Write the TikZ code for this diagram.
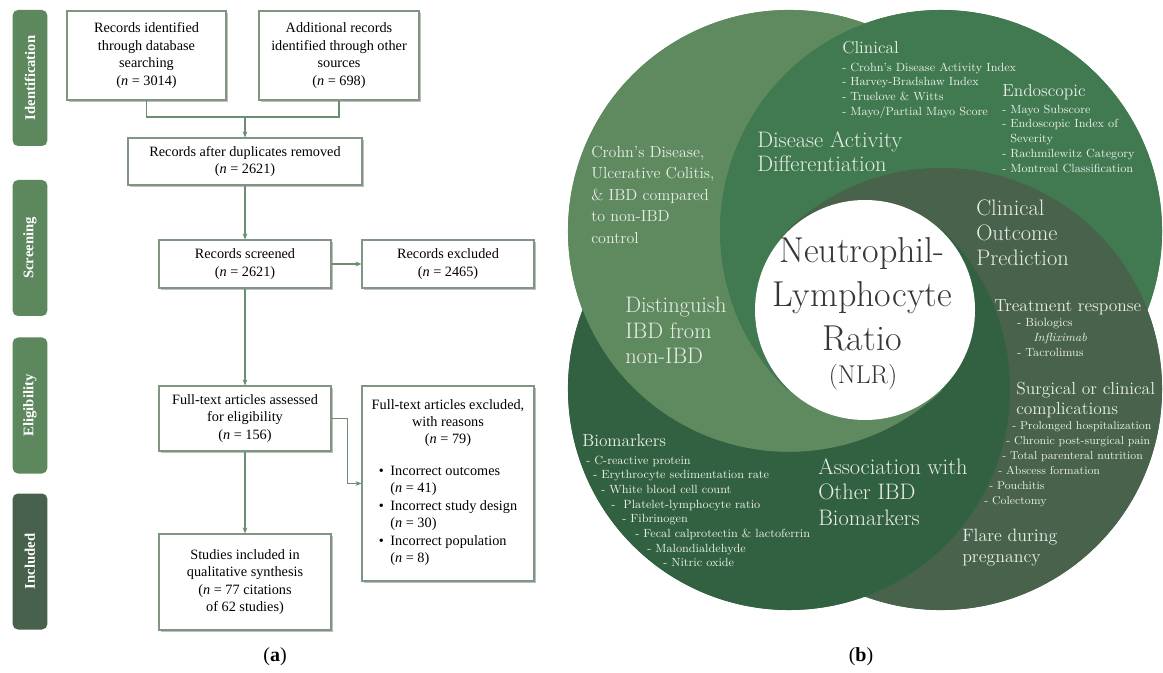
\documentclass[tikz,border=0pt]{standalone}
\usepackage{fontspec}
\usepackage{tikz}
\usetikzlibrary{arrows.meta,calc,shadows}
\newfontfamily\flowfont{Liberation Serif}
\definecolor{stagegreen}{HTML}{5D875D}
\definecolor{stagedark}{HTML}{47614C}
\definecolor{boxline}{HTML}{7F9782}
\definecolor{linkgreen}{HTML}{6B8E71}
\definecolor{vA}{HTML}{5F8A5F}
\definecolor{vB}{HTML}{417A51}
\definecolor{vC}{HTML}{48624C}
\definecolor{vD}{HTML}{326141}
\definecolor{venntext}{HTML}{E9EEE7}
\definecolor{coretext}{HTML}{363636}
\tikzset{
  stage/.style={rounded corners=4pt, rotate=90, text=white, inner sep=0pt,
    minimum width=102pt, minimum height=26pt,
    font=\flowfont\fontsize{11}{13}\selectfont\bfseries},
  fbox/.style={draw=boxline, line width=0.8pt, fill=white, align=center, inner sep=2pt,
    font=\flowfont\fontsize{10.7}{13.1}\selectfont,
    drop shadow={shadow xshift=1.2pt, shadow yshift=-1.2pt, fill=black, opacity=0.25}},
  link/.style={draw=linkgreen, line width=0.8pt},
  arr/.style={link, -{Stealth[length=4.5pt, width=3.6pt]}},
  vtxt/.style={text=venntext, align=left, anchor=north west, inner sep=0pt},
  bigtxt/.style={vtxt, font=\fontsize{16.8}{19.1}\selectfont},
  headtxt/.style={vtxt, font=\fontsize{13}{15.5}\selectfont},
  itemtxt/.style={vtxt, font=\fontsize{8.9}{11}\selectfont},
  panel/.style={font=\flowfont\fontsize{15}{18}\selectfont},
}

\begin{document}
\begin{tikzpicture}[x=0.75pt, y=-0.75pt]
  \fill[white] (0,0) rectangle (1163,673);
  \useasboundingbox (0,0) rectangle (1163,673);

  % (a) PRISMA flow
  \node[stage, fill=stagegreen] (sIdent) at (30,78) {Identification};
  \node[stage, fill=stagegreen] (sScreen) at (30,248) {Screening};
  \node[stage, fill=stagegreen] (sElig) at (30,405.5) {Eligibility};
  \node[stage, fill=stagedark] (sIncl) at (30,561.5) {Included};

  \node[fbox, minimum width=119.25pt, minimum height=66.75pt] (recDb) at (146.5,55.5)
    {Records identified\\through database\\searching\\(\textit{n} = 3014)};
  \node[fbox, minimum width=120pt, minimum height=66.75pt] (recOther) at (339,55.5)
    {Additional records\\identified through other\\sources\\(\textit{n} = 698)};
  \node[fbox, minimum width=175.5pt, minimum height=35.25pt] (dedup) at (245,161.5)
    {Records after duplicates removed\\(\textit{n} = 2621)};
  \node[fbox, minimum width=129pt, minimum height=36pt] (screened) at (245,264)
    {Records screened\\(\textit{n} = 2621)};
  \node[fbox, minimum width=129pt, minimum height=36pt] (excluded) at (448,264)
    {Records excluded\\(\textit{n} = 2465)};
  \node[fbox, minimum width=129pt, minimum height=48.75pt] (fullText) at (245,418.5)
    {Full-text articles assessed\\for eligibility\\(\textit{n} = 156)};
  \node[fbox, minimum width=129pt, minimum height=146.25pt] (ftExcl) at (448,483.5)
    {Full-text articles excluded,\\with reasons\\(\textit{n} = 79)\\[11pt]
     \begin{tabular}{@{}c@{\hspace{5pt}}l@{}}
       \textbullet & Incorrect outcomes\\
                   & (\textit{n} = 41)\\
       \textbullet & Incorrect study design\\
                   & (\textit{n} = 30)\\
       \textbullet & Incorrect population\\
                   & (\textit{n} = 8)
     \end{tabular}};
  \node[fbox, minimum width=129pt, minimum height=72pt] (studies) at (245,582)
    {Studies included in\\qualitative synthesis\\(\textit{n} = 77 citations\\of 62 studies)};

  \coordinate (merge) at (245,117);
  \draw[link] (recDb.south) |- (merge) -| (recOther.south);
  \draw[arr] (merge) -- (dedup.north);
  \draw[arr] (dedup) -- (screened);
  \draw[arr] (screened) -- (excluded);
  \draw[arr] (screened) -- (fullText);
  \draw[arr] (fullText.east) -- ++(16,0) |- (ftExcl.west);
  \draw[arr] (fullText) -- (studies);

  \node[panel] (capA) at (275,657) {(\textbf{a})};

  % (b) four circles, each one lies over the previous one (pinwheel)
  \coordinate (O) at (865,310);
  \coordinate (cA) at (789,231);
  \coordinate (cB) at (941,231);
  \coordinate (cC) at (941,389);
  \coordinate (cD) at (789,389);
  \coordinate (pAB) at (865,23.48);   % outer crossings
  \coordinate (pBC) at (1147.4,310);
  \coordinate (pCD) at (865,596.52);
  \coordinate (pDA) at (582.6,310);
  \coordinate (tA) at (942.22,390.27); % where each rim touches the core
  \coordinate (tB) at (787.78,390.27);
  \coordinate (tC) at (787.78,229.73);
  \coordinate (tD) at (942.22,229.73);
  \foreach \k in {D,A,B,C}
    \fill[v\k] (c\k) circle[radius=221];
  \fill[vA] (pAB) arc[start angle=-69.89, end angle=-313.89, radius=221] -- (O)
    -- (tB) arc[start angle=133.89, end angle=249.89, radius=221] -- cycle;
  \fill[vB] (pBC) arc[start angle=20.94, end angle=-226.11, radius=221] -- (O)
    -- (tC) arc[start angle=-133.89, end angle=-20.94, radius=221] -- cycle;
  \fill[vC] (pCD) arc[start angle=110.11, end angle=-133.89, radius=221] -- (O)
    -- (tD) arc[start angle=-46.11, end angle=69.89, radius=221] -- cycle;
  \fill[vD] (pDA) arc[start angle=200.94, end angle=-46.11, radius=221] -- (O)
    -- (tA) arc[start angle=46.11, end angle=159.06, radius=221] -- cycle;

  \node[circle, fill=white, minimum size=165pt, inner sep=0pt] (core) at (O) {};
  \node[text=coretext, align=center, font=\fontsize{27}{33}\selectfont] (nlr) at (862,294)
    {Neutrophil-\\Lymphocyte\\Ratio};
  \node[text=coretext, font=\fontsize{19.3}{22}\selectfont] (nlrAbbr) at (863,377) {(NLR)};

  \node[vtxt, font=\fontsize{12}{16.1}\selectfont] (cdLbl) at (591,146)
    {Crohn's Disease,\\Ulcerative Colitis,\\\& IBD compared\\to non-IBD\\control};
  \node[bigtxt] (distLbl) at (625,297) {Distinguish\\IBD from\\non-IBD};
  \node[bigtxt, font=\fontsize{16.8}{18}\selectfont] (actLbl) at (757,131)
    {Disease Activity\\Differentiation};
  \node[headtxt] (clinHead) at (842,41) {Clinical};
  \node[itemtxt] (clinItems) at (842,62.5)
    {- Crohn's Disease Activity Index\\- Harvey-Bradshaw Index\\- Truelove \& Witts\\- Mayo/Partial Mayo Score};
  \node[headtxt] (endoHead) at (1002,84) {Endoscopic};
  \node[itemtxt, font=\fontsize{8.9}{11.1}\selectfont] (endoItems) at (1002,104.5)
    {- Mayo Subscore\\- Endoscopic Index of\\\hspace*{6pt}Severity\\- Rachmilewitz Category\\- Montreal Classification};
  \node[bigtxt, font=\fontsize{16.8}{18.75}\selectfont] (outLbl) at (976,200)
    {Clinical\\Outcome\\Prediction};
  \node[headtxt, font=\fontsize{13.1}{16}\selectfont] (treatHead) at (994,299) {Treatment response};
  \node[itemtxt, font=\fontsize{8.9}{11.6}\selectfont] (treatItems) at (1017,317.5)
    {- Biologics\\\hspace*{12pt}\textit{Infliximab}\\- Tacrolimus};
  \node[headtxt, font=\fontsize{13.1}{15}\selectfont] (surgHead) at (1016,382)
    {Surgical or clinical\\complications};
  \node[itemtxt, font=\fontsize{8.6}{11.25}\selectfont] (surgItems) at (984,421.5)
    {\hspace*{21pt}- Prolonged hospitalization\\\hspace*{16.5pt}- Chronic post-surgical pain\\
     \hspace*{13.5pt}- Total parenteral nutrition\\\hspace*{10.5pt}- Abscess formation\\
     \hspace*{3.75pt}- Pouchitis\\- Colectomy};
  \node[headtxt, font=\fontsize{13.4}{15.75}\selectfont] (flareLbl) at (962,529)
    {Flare during\\pregnancy};
  \node[bigtxt] (assocLbl) at (818,458) {Association with\\Other IBD\\Biomarkers};
  \node[headtxt] (bioHead) at (582,434) {Biomarkers};
  \node[itemtxt] (bioItems) at (586,455.5)
    {- C-reactive protein\\\hspace*{5.25pt}- Erythrocyte sedimentation rate\\
     \hspace*{11.25pt}- White blood cell count\\\hspace*{18.75pt}-\ \ Platelet-lymphocyte ratio\\
     \hspace*{27pt}- Fibrinogen\\\hspace*{36.75pt}- Fecal calprotectin \& lactoferrin\\
     \hspace*{45.75pt}- Malondialdehyde\\\hspace*{57.75pt}- Nitric oxide};

  \node[panel] (capB) at (861,657) {(\textbf{b})};
\end{tikzpicture}
\end{document}
